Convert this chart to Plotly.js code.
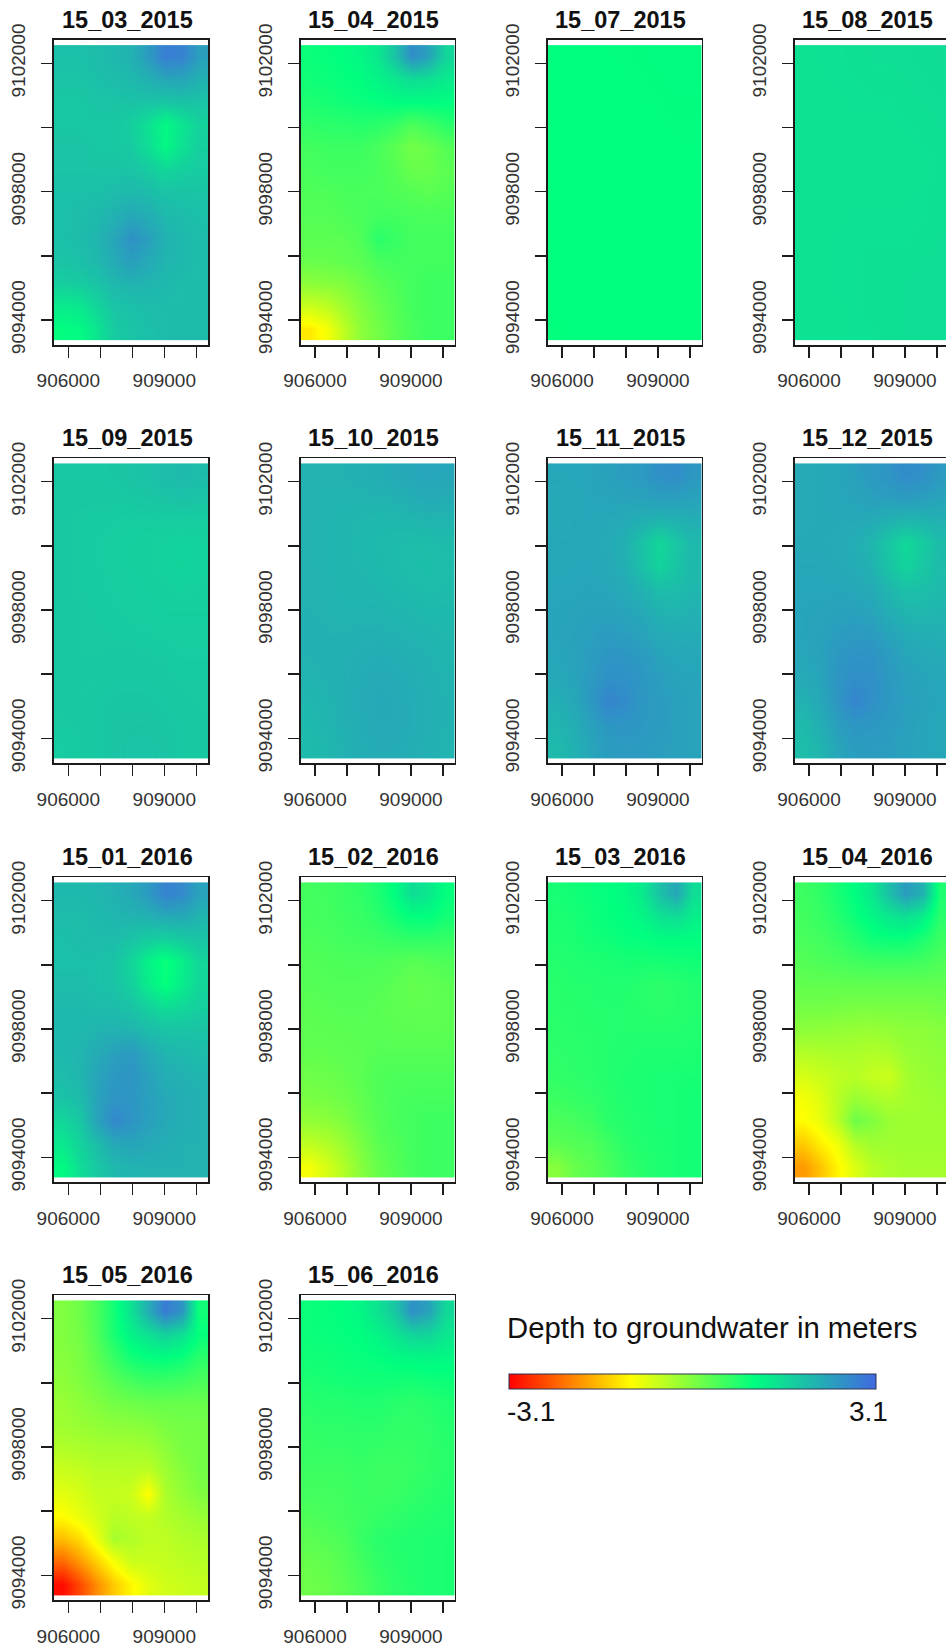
<!DOCTYPE html>
<html><head><meta charset="utf-8">
<script src="https://cdn.plot.ly/plotly-3.0.1.min.js"></script>
<style>html,body{margin:0;padding:0;background:#fff;overflow:hidden;width:946px;height:1648px}#c{width:950px;height:1648px}</style>
</head><body><div id="c"></div>
<script>
// Grid of the surfaces: easting and northing of the cell centres
var eastings = [905820,906355,906890,907425,907960,908495,909030,909565,910100];
var northings = [9102214,9101507,9100800,9100093,9099386,9098679,9097972,9097265,9096558,9095851,9095144,9094437,9093730];

var xTickVals = [906000,907000,908000,909000,910000];
var xTickText = ['906000','','','909000',''];
var yTickVals = [9094000,9096000,9098000,9100000,9102000];
var yTickText = ['9094000','','9098000','','9102000'];

var dateLabels = ['15_03_2015','15_04_2015','15_07_2015','15_08_2015','15_09_2015','15_10_2015','15_11_2015','15_12_2015','15_01_2016','15_02_2016','15_03_2016','15_04_2016','15_05_2016','15_06_2016'];
var legendTitle = 'Depth to groundwater in meters';
var legendMin = -3.1, legendMax = 3.1;

// Depth to groundwater (m); each row runs west to east, rows run north to south
var d_15_03_2015 = [
[1.9,1.9,1.95,2.0,2.1,2.4,2.8,2.75,2.35],
[1.85,1.85,1.9,1.95,2.0,2.1,2.25,2.25,2.1],
[1.8,1.8,1.85,1.85,1.85,1.85,1.8,1.85,1.85],
[1.8,1.8,1.8,1.8,1.7,1.45,1.12,1.4,1.65],
[1.85,1.85,1.8,1.8,1.75,1.5,1.15,1.45,1.7],
[1.85,1.85,1.85,1.85,1.85,1.75,1.6,1.7,1.75],
[1.9,1.9,1.9,1.95,2.0,1.95,1.85,1.85,1.85],
[1.9,1.95,2.0,2.1,2.22,2.15,2.0,1.95,1.9],
[1.9,1.95,2.05,2.25,2.55,2.35,2.1,2.0,1.95],
[1.85,1.9,2.0,2.2,2.35,2.2,2.05,2.0,1.95],
[1.7,1.75,1.85,2.0,2.08,2.05,2.0,1.95,1.95],
[1.3,1.35,1.6,1.85,1.9,1.95,1.95,1.95,1.95],
[1.05,1.1,1.4,1.75,1.85,1.9,1.95,1.95,1.95]];
var d_15_04_2015 = [
[0.95,1.0,1.05,1.15,1.35,1.85,2.6,2.3,1.6],
[0.9,0.95,1.0,1.05,1.18,1.35,1.5,1.45,1.3],
[0.8,0.85,0.9,0.95,1.0,1.05,1.05,1.05,1.05],
[0.65,0.7,0.7,0.75,0.7,0.6,0.42,0.55,0.7],
[0.5,0.55,0.55,0.55,0.45,0.3,0.1,0.2,0.35],
[0.45,0.5,0.5,0.5,0.45,0.35,0.2,0.2,0.3],
[0.4,0.4,0.45,0.45,0.45,0.4,0.35,0.3,0.35],
[0.35,0.35,0.4,0.45,0.5,0.5,0.45,0.45,0.45],
[0.3,0.3,0.3,0.4,0.7,0.6,0.5,0.5,0.5],
[0.2,0.2,0.25,0.3,0.45,0.5,0.5,0.5,0.5],
[-0.1,-0.05,0.0,0.15,0.3,0.4,0.5,0.55,0.55],
[-0.6,-0.5,-0.25,0.0,0.2,0.35,0.5,0.55,0.55],
[-1.2,-0.95,-0.5,-0.1,0.1,0.3,0.45,0.55,0.55]];
var d_15_07_2015 = [
[1.04,1.04,1.04,1.05,1.05,1.06,1.07,1.08,1.08],
[1.04,1.04,1.04,1.04,1.05,1.05,1.06,1.07,1.07],
[1.04,1.04,1.04,1.04,1.04,1.05,1.05,1.06,1.06],
[1.04,1.04,1.04,1.04,1.04,1.04,1.05,1.05,1.05],
[1.04,1.04,1.04,1.04,1.04,1.04,1.04,1.05,1.05],
[1.04,1.04,1.04,1.04,1.04,1.04,1.04,1.04,1.04],
[1.04,1.04,1.04,1.04,1.04,1.04,1.04,1.04,1.04],
[1.04,1.04,1.04,1.04,1.04,1.04,1.04,1.04,1.04],
[1.03,1.04,1.04,1.04,1.04,1.04,1.04,1.04,1.04],
[1.03,1.03,1.04,1.04,1.04,1.04,1.04,1.04,1.04],
[1.03,1.03,1.03,1.04,1.04,1.04,1.04,1.04,1.04],
[1.03,1.03,1.03,1.04,1.04,1.04,1.04,1.04,1.04],
[1.02,1.03,1.03,1.03,1.04,1.04,1.04,1.04,1.04]];
var d_15_08_2015 = [
[1.44,1.45,1.45,1.46,1.47,1.47,1.48,1.49,1.5],
[1.44,1.44,1.45,1.45,1.46,1.46,1.47,1.48,1.49],
[1.44,1.44,1.44,1.45,1.45,1.45,1.46,1.47,1.48],
[1.44,1.44,1.44,1.44,1.44,1.44,1.45,1.46,1.47],
[1.44,1.44,1.44,1.44,1.44,1.43,1.43,1.45,1.46],
[1.44,1.44,1.44,1.44,1.44,1.43,1.43,1.44,1.46],
[1.44,1.44,1.44,1.44,1.44,1.44,1.44,1.45,1.46],
[1.44,1.44,1.44,1.45,1.45,1.45,1.45,1.45,1.46],
[1.44,1.44,1.45,1.45,1.45,1.45,1.45,1.46,1.47],
[1.44,1.44,1.45,1.45,1.46,1.46,1.46,1.47,1.47],
[1.43,1.44,1.45,1.45,1.46,1.46,1.47,1.47,1.48],
[1.43,1.44,1.44,1.45,1.46,1.46,1.47,1.47,1.48],
[1.43,1.43,1.44,1.45,1.45,1.46,1.47,1.48,1.48]];
var d_15_09_2015 = [
[1.8,1.8,1.8,1.82,1.85,1.88,1.95,1.98,1.95],
[1.78,1.78,1.78,1.78,1.8,1.82,1.85,1.88,1.85],
[1.78,1.76,1.75,1.74,1.72,1.72,1.72,1.72,1.72],
[1.78,1.76,1.74,1.72,1.7,1.68,1.66,1.64,1.66],
[1.78,1.76,1.74,1.72,1.7,1.68,1.65,1.63,1.65],
[1.78,1.76,1.75,1.73,1.72,1.7,1.68,1.66,1.68],
[1.78,1.77,1.76,1.74,1.72,1.72,1.7,1.7,1.7],
[1.78,1.77,1.76,1.76,1.75,1.74,1.72,1.72,1.72],
[1.78,1.77,1.77,1.78,1.78,1.77,1.76,1.74,1.74],
[1.78,1.78,1.78,1.8,1.8,1.8,1.78,1.76,1.76],
[1.78,1.78,1.8,1.82,1.82,1.82,1.8,1.78,1.76],
[1.76,1.78,1.8,1.83,1.84,1.84,1.82,1.8,1.78],
[1.74,1.76,1.8,1.83,1.85,1.85,1.83,1.8,1.78]];
var d_15_10_2015 = [
[2.1,2.1,2.1,2.13,2.15,2.2,2.25,2.28,2.25],
[2.1,2.08,2.07,2.07,2.08,2.1,2.15,2.2,2.17],
[2.1,2.07,2.05,2.03,2.01,2.01,2.03,2.05,2.05],
[2.1,2.07,2.05,2.01,1.99,1.97,1.95,1.95,1.97],
[2.1,2.07,2.05,2.03,2.0,1.97,1.93,1.91,1.95],
[2.1,2.08,2.05,2.05,2.03,2.0,1.97,1.95,1.97],
[2.1,2.09,2.07,2.07,2.07,2.05,2.03,2.0,2.0],
[2.11,2.1,2.1,2.11,2.11,2.09,2.07,2.05,2.03],
[2.1,2.11,2.12,2.15,2.17,2.15,2.12,2.09,2.05],
[2.07,2.1,2.13,2.17,2.21,2.19,2.15,2.12,2.07],
[2.03,2.07,2.13,2.19,2.23,2.21,2.17,2.13,2.09],
[2.0,2.05,2.11,2.17,2.21,2.21,2.17,2.13,2.09],
[1.97,2.03,2.1,2.15,2.19,2.19,2.15,2.12,2.07]];
var d_15_11_2015 = [
[2.25,2.25,2.28,2.33,2.38,2.42,2.55,2.6,2.45],
[2.22,2.24,2.26,2.28,2.3,2.3,2.36,2.36,2.3],
[2.22,2.24,2.25,2.23,2.2,2.12,2.05,2.08,2.14],
[2.24,2.24,2.24,2.2,2.1,1.88,1.58,1.8,2.0],
[2.24,2.25,2.25,2.22,2.12,1.9,1.62,1.82,2.0],
[2.26,2.26,2.28,2.26,2.2,2.08,1.93,1.94,2.02],
[2.28,2.29,2.31,2.31,2.28,2.2,2.08,2.06,2.1],
[2.28,2.31,2.35,2.4,2.36,2.3,2.2,2.18,2.18],
[2.26,2.31,2.38,2.48,2.48,2.42,2.3,2.25,2.24],
[2.22,2.28,2.42,2.55,2.55,2.46,2.37,2.3,2.28],
[2.14,2.24,2.42,2.72,2.62,2.46,2.4,2.34,2.3],
[2.05,2.14,2.33,2.47,2.48,2.44,2.4,2.34,2.3],
[1.98,2.1,2.26,2.38,2.42,2.4,2.37,2.34,2.3]];
var d_15_12_2015 = [
[2.2,2.22,2.26,2.33,2.42,2.5,2.62,2.56,2.42],
[2.2,2.22,2.25,2.28,2.34,2.36,2.4,2.36,2.28],
[2.2,2.22,2.22,2.22,2.18,2.1,2.03,2.05,2.1],
[2.22,2.22,2.2,2.15,2.03,1.8,1.56,1.74,1.95],
[2.24,2.24,2.22,2.18,2.08,1.85,1.62,1.8,1.95],
[2.26,2.26,2.26,2.24,2.18,2.03,1.88,1.9,1.98],
[2.28,2.29,2.31,2.32,2.28,2.15,2.03,2.02,2.05],
[2.28,2.31,2.38,2.42,2.4,2.28,2.18,2.14,2.12],
[2.26,2.31,2.45,2.52,2.52,2.4,2.28,2.22,2.2],
[2.2,2.28,2.48,2.58,2.56,2.44,2.34,2.28,2.25],
[2.1,2.24,2.48,2.7,2.56,2.44,2.36,2.3,2.26],
[1.98,2.14,2.36,2.48,2.45,2.4,2.34,2.28,2.24],
[1.93,2.06,2.26,2.37,2.4,2.37,2.32,2.28,2.24]];
var d_15_01_2016 = [
[2.0,2.0,2.03,2.1,2.22,2.42,2.75,2.65,2.3],
[1.95,1.95,2.0,2.03,2.06,2.1,2.2,2.2,2.05],
[1.9,1.95,1.95,1.95,1.85,1.72,1.65,1.75,1.85],
[1.9,1.9,1.9,1.85,1.62,1.22,0.95,1.25,1.6],
[1.95,1.95,1.9,1.85,1.68,1.28,1.0,1.3,1.6],
[2.0,2.0,1.95,1.95,1.85,1.68,1.5,1.58,1.7],
[2.0,2.0,2.05,2.1,2.05,1.95,1.85,1.85,1.85],
[2.0,2.05,2.18,2.32,2.42,2.2,2.05,2.0,1.95],
[1.95,2.05,2.28,2.45,2.5,2.32,2.15,2.1,2.05],
[1.85,1.95,2.3,2.48,2.48,2.35,2.22,2.15,2.1],
[1.6,1.8,2.3,2.68,2.5,2.35,2.22,2.15,2.1],
[1.35,1.65,1.95,2.22,2.28,2.22,2.15,2.1,2.1],
[1.1,1.5,1.8,2.0,2.08,2.1,2.1,2.1,2.1]];
var d_15_02_2016 = [
[0.5,0.52,0.58,0.65,0.8,1.05,1.5,1.35,1.0],
[0.48,0.5,0.55,0.6,0.7,0.88,1.02,1.02,0.88],
[0.42,0.45,0.5,0.52,0.55,0.6,0.65,0.65,0.6],
[0.38,0.4,0.42,0.42,0.42,0.38,0.32,0.35,0.4],
[0.35,0.38,0.38,0.38,0.35,0.3,0.22,0.25,0.3],
[0.3,0.32,0.35,0.35,0.32,0.28,0.25,0.25,0.28],
[0.28,0.3,0.3,0.32,0.32,0.3,0.3,0.28,0.3],
[0.25,0.25,0.28,0.3,0.35,0.35,0.35,0.35,0.35],
[0.15,0.18,0.22,0.3,0.4,0.42,0.42,0.42,0.42],
[0.05,0.08,0.15,0.25,0.38,0.45,0.48,0.48,0.48],
[-0.15,-0.1,0.0,0.2,0.35,0.45,0.5,0.55,0.55],
[-0.5,-0.4,-0.2,0.05,0.3,0.4,0.5,0.55,0.55],
[-0.95,-0.7,-0.4,-0.05,0.2,0.35,0.48,0.55,0.55]];
var d_15_03_2016 = [
[0.85,0.9,0.95,1.02,1.1,1.3,1.85,2.25,1.5],
[0.82,0.85,0.92,1.0,1.05,1.15,1.4,1.5,1.25],
[0.8,0.82,0.88,0.92,0.98,1.0,1.05,1.05,1.05],
[0.75,0.78,0.8,0.82,0.85,0.85,0.85,0.88,0.9],
[0.72,0.75,0.75,0.78,0.78,0.72,0.68,0.72,0.78],
[0.72,0.72,0.75,0.75,0.75,0.72,0.7,0.72,0.75],
[0.7,0.72,0.72,0.75,0.75,0.75,0.75,0.75,0.78],
[0.68,0.7,0.72,0.75,0.78,0.8,0.8,0.8,0.82],
[0.65,0.68,0.7,0.75,0.8,0.82,0.85,0.85,0.85],
[0.55,0.6,0.65,0.72,0.78,0.82,0.85,0.85,0.88],
[0.42,0.48,0.55,0.7,0.75,0.8,0.85,0.85,0.88],
[0.3,0.35,0.4,0.55,0.7,0.78,0.82,0.85,0.88],
[-0.05,0.2,0.3,0.45,0.62,0.72,0.8,0.85,0.88]];
var d_15_04_2016 = [
[0.55,0.65,0.85,1.05,1.35,1.9,2.4,2.1,0.8],
[0.5,0.6,0.75,0.95,1.15,1.35,1.45,1.25,0.7],
[0.45,0.5,0.6,0.75,0.9,0.95,0.95,0.8,0.55],
[0.35,0.4,0.45,0.5,0.55,0.55,0.55,0.5,0.4],
[0.25,0.25,0.25,0.25,0.25,0.25,0.25,0.25,0.25],
[0.1,0.1,0.08,0.05,0.05,0.05,0.05,0.05,0.1],
[-0.1,-0.12,-0.15,-0.18,-0.2,-0.15,-0.1,-0.1,-0.05],
[-0.4,-0.38,-0.35,-0.35,-0.4,-0.35,-0.2,-0.15,-0.1],
[-0.7,-0.6,-0.5,-0.45,-0.55,-0.62,-0.3,-0.2,-0.15],
[-0.95,-0.75,-0.45,-0.2,-0.3,-0.38,-0.3,-0.25,-0.2],
[-1.05,-0.85,-0.45,0.15,0.0,-0.2,-0.25,-0.25,-0.25],
[-1.45,-1.15,-0.9,-0.4,-0.25,-0.25,-0.25,-0.25,-0.25],
[-1.85,-1.5,-1.1,-0.75,-0.45,-0.35,-0.3,-0.3,-0.3]];
var d_15_05_2016 = [
[0.0,0.15,0.45,0.9,1.45,2.15,2.85,2.5,0.9],
[0.0,0.1,0.4,0.85,1.2,1.45,1.65,1.45,1.0],
[-0.05,0.05,0.3,0.6,0.9,1.0,1.05,0.95,0.7],
[-0.1,0.0,0.15,0.35,0.5,0.6,0.6,0.55,0.45],
[-0.2,-0.1,0.0,0.1,0.15,0.2,0.2,0.2,0.2],
[-0.25,-0.2,-0.15,-0.1,-0.1,-0.05,0.05,0.1,0.1],
[-0.4,-0.35,-0.3,-0.3,-0.3,-0.25,-0.1,0.05,0.1],
[-0.6,-0.55,-0.45,-0.45,-0.45,-0.5,-0.25,-0.05,0.1],
[-0.8,-0.7,-0.55,-0.55,-0.6,-1.05,-0.35,-0.15,0.0],
[-1.05,-0.85,-0.65,-0.45,-0.5,-0.55,-0.4,-0.3,-0.2],
[-1.55,-1.3,-0.85,-0.3,-0.4,-0.5,-0.5,-0.4,-0.35],
[-2.25,-1.85,-1.4,-0.95,-0.6,-0.6,-0.55,-0.5,-0.45],
[-3.0,-2.5,-1.95,-1.45,-1.1,-0.8,-0.65,-0.6,-0.55]];
var d_15_06_2016 = [
[0.95,1.0,1.05,1.15,1.42,1.8,2.55,2.3,1.55],
[0.95,0.98,1.0,1.05,1.18,1.38,1.6,1.6,1.35],
[0.9,0.92,0.95,0.98,1.02,1.1,1.12,1.15,1.12],
[0.82,0.85,0.88,0.9,0.9,0.9,0.88,0.92,0.95],
[0.72,0.75,0.75,0.78,0.78,0.72,0.68,0.72,0.8],
[0.65,0.68,0.68,0.7,0.7,0.65,0.65,0.68,0.75],
[0.6,0.62,0.62,0.65,0.62,0.6,0.62,0.65,0.72],
[0.55,0.55,0.55,0.6,0.55,0.55,0.6,0.65,0.72],
[0.5,0.5,0.52,0.58,0.55,0.58,0.65,0.7,0.75],
[0.4,0.45,0.5,0.55,0.62,0.65,0.72,0.75,0.78],
[0.3,0.35,0.42,0.6,0.7,0.75,0.78,0.8,0.82],
[0.2,0.25,0.35,0.5,0.65,0.72,0.78,0.8,0.82],
[0.15,0.2,0.3,0.42,0.58,0.68,0.75,0.8,0.82]];

var surfaces = [d_15_03_2015,d_15_04_2015,d_15_07_2015,d_15_08_2015,d_15_09_2015,d_15_10_2015,d_15_11_2015,d_15_12_2015,d_15_01_2016,d_15_02_2016,d_15_03_2016,d_15_04_2016,d_15_05_2016,d_15_06_2016];

// Layout in page pixels
var W = 950, H = 1648;
var colLeft = [54, 300.7, 547.7, 794.7], panelW = 154;
var rowTop = [40, 458.3, 877.3, 1295.3], panelH = 305;
var tickFont = {family:'"Liberation Sans",Arial,sans-serif', size:19, color:'#333'};
var ink = '#1c1c1c';

var traces = [], annotations = [];
var layout = {
  width: W, height: H, margin:{l:0,r:0,t:0,b:0,pad:0}, paper_bgcolor:'#fff', plot_bgcolor:'#fff', showlegend:false,
  coloraxis: {
    cmin: legendMin, cmax: legendMax,
    colorscale: [[0,'#ff0000'],[1/3,'#ffff00'],[2/3,'#00ff7f'],[1,'#4169e1']],
    colorbar: {
      orientation:'h', lenmode:'pixels', len:367, thicknessmode:'pixels', thickness:15,
      x:(508.7+875.7)/2/W, xanchor:'center', y:1-1390/H, yanchor:'bottom', xpad:0, ypad:0,
      showticklabels:false, ticks:'', outlinecolor:'#2a3350', outlinewidth:1
    }
  }
};

dateLabels.forEach(function(label, i){
  var col = i % 4, row = Math.floor(i / 4), n = i === 0 ? '' : String(i + 1);
  var left = colLeft[col], top = rowTop[row];
  traces.push({
    type:'heatmap', x:eastings, y:northings.slice().reverse(), z:surfaces[i].slice().reverse(),
    coloraxis:'coloraxis', zsmooth:'best', xaxis:'x'+n, yaxis:'y'+n, hoverinfo:'skip'
  });
  layout['xaxis'+n] = {
    domain:[left/W,(left+panelW)/W], range:[905553,910366], anchor:'y'+n,
    tickmode:'array', tickvals:xTickVals, ticktext:xTickText, ticks:'outside', ticklen:11, tickwidth:1.5, tickcolor:ink,
    showline:true, mirror:true, linecolor:ink, linewidth:1.6, showgrid:false, zeroline:false,
    tickfont:tickFont, tickangle:0, ticklabelstandoff:7, fixedrange:true
  };
  layout['yaxis'+n] = {
    domain:[1-(top+panelH)/H,1-top/H], range:[9093221,9102727], anchor:'x'+n,
    tickmode:'array', tickvals:yTickVals, ticktext:yTickText, ticks:'outside', ticklen:11, tickwidth:1.5, tickcolor:ink,
    showline:true, mirror:true, linecolor:ink, linewidth:1.6, showgrid:false, zeroline:false,
    tickfont:tickFont, tickangle:-90, ticklabelstandoff:9, fixedrange:true
  };
  annotations.push({
    text:'<b>'+label+'</b>', xref:'paper', yref:'paper', x:(left+panelW/2-4)/W, y:1-(top-20.5)/H,
    xanchor:'center', yanchor:'middle', showarrow:false,
    font:{family:'"Liberation Sans",Arial,sans-serif', size:23.5, color:'#111'}
  });
});

annotations.push({text:legendTitle, xref:'paper', yref:'paper', x:504.5/W, y:1-1327/H, xanchor:'left', yanchor:'middle', showarrow:false,
  font:{family:'"Liberation Sans",Arial,sans-serif', size:29.3, color:'#111'}});
annotations.push({text:String(legendMin), xref:'paper', yref:'paper', x:505/W, y:1-1411/H, xanchor:'left', yanchor:'middle', showarrow:false,
  font:{family:'"Liberation Sans",Arial,sans-serif', size:28, color:'#111'}});
annotations.push({text:String(legendMax), xref:'paper', yref:'paper', x:890/W, y:1-1411/H, xanchor:'right', yanchor:'middle', showarrow:false,
  font:{family:'"Liberation Sans",Arial,sans-serif', size:28, color:'#111'}});
layout.annotations = annotations;

Plotly.newPlot('c', traces, layout, {displayModeBar:false, staticPlot:true});
</script>
</body></html>
